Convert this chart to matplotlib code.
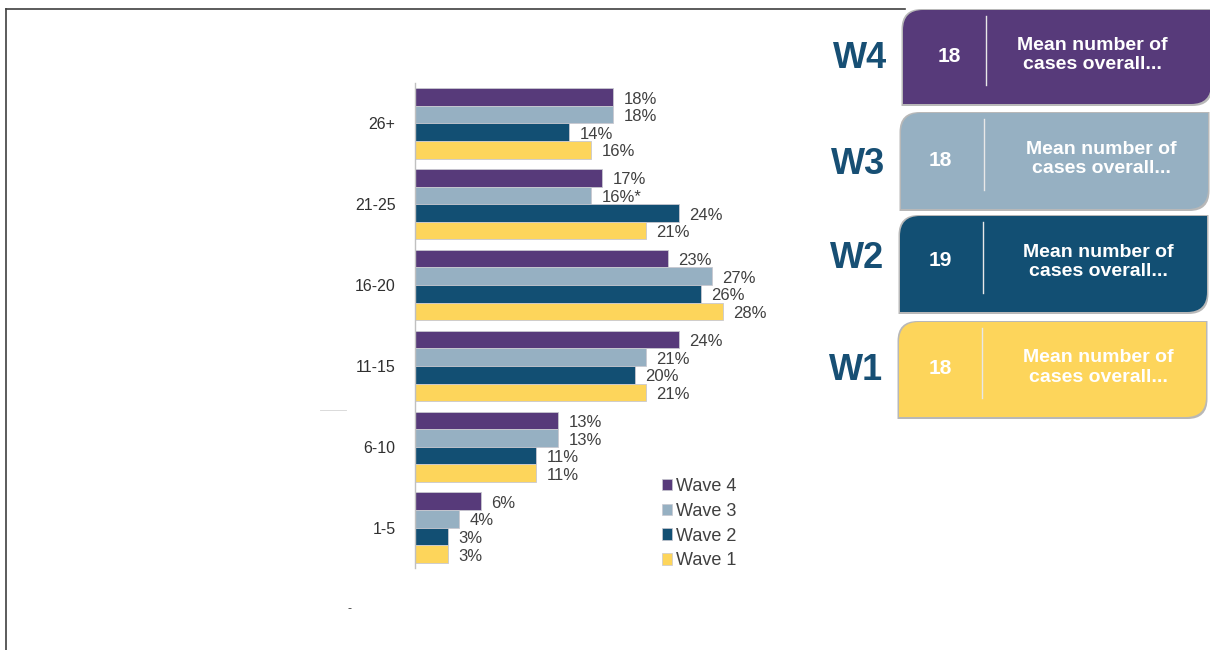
import matplotlib
matplotlib.use("Agg")
import matplotlib.pyplot as plt
from matplotlib.path import Path
from matplotlib.patches import PathPatch, Patch
import numpy as np

plt.rcParams['font.family'] = ['Liberation Sans', 'DejaVu Sans']

categories = ["26+", "21-25", "16-20", "11-15", "6-10", "1-5"]
series_names = ["Wave 4", "Wave 3", "Wave 2", "Wave 1"]
wave4 = [18, 17, 23, 24, 13, 6]
wave3 = [18, 16, 27, 21, 13, 4]
wave2 = [14, 24, 26, 20, 11, 3]
wave1 = [16, 21, 28, 21, 11, 3]
wave3_labels = ["18%", "16%*", "27%", "21%", "13%", "4%"]
colors = ["#573a7a", "#96b0c2", "#124f73", "#fdd55b"]

box_labels = ["W4", "W3", "W2", "W1"]
box_means = ["18", "18", "19", "18"]
box_text = "Mean number of\ncases overall..."

W, H = 1210, 650
fig = plt.figure(figsize=(W / 100, H / 100), dpi=100)

# main bar axes
ax = fig.add_axes([415 / W, 1 - 568 / H, 385 / W, 485 / H])
n = len(categories)
ypos = np.arange(n)[::-1]  # 26+ on top
h = 0.218
series = [wave4, wave3, wave2, wave1]
offsets = [1.5, 0.5, -0.5, -1.5]
for i, (vals, col, off) in enumerate(zip(series, colors, offsets)):
    bars = ax.barh(ypos + off * h, vals, height=h, color=col,
                   edgecolor="#c8c8d0", linewidth=0.6, label=series_names[i])
    labels = wave3_labels if i == 1 else [f"{v}%" for v in vals]
    for b, lab in zip(bars, labels):
        ax.annotate(lab, (b.get_width(), b.get_y() + b.get_height() / 2),
                    xytext=(7.5, -1.5), textcoords="offset points",
                    va="center", ha="left", fontsize=12, color="#404040")

ax.set_xlim(0, 35)
ax.set_ylim(-0.5, n - 0.5)
ax.set_yticks(ypos)
ax.set_yticklabels(categories, fontsize=11.5, color="#303030")
ax.tick_params(axis="y", length=0, pad=14)
ax.set_xticks([])
for s in ["top", "right", "bottom"]:
    ax.spines[s].set_visible(False)
ax.spines["left"].set_color("#c0c0c0")
ax.spines["left"].set_linewidth(1.0)

handles = [Patch(facecolor=c, edgecolor="#c8c8d0", linewidth=0.5) for c in colors]
fig.legend(handles, series_names, loc="upper left",
           bbox_to_anchor=(653 / W, 1 - 469 / H), frameon=False,
           fontsize=13, handlelength=0.55, handleheight=0.6,
           handletextpad=0.2, labelspacing=0.43, borderpad=0,
           labelcolor="#404040")

# overlay axes in pixel coordinates for decorations
ov = fig.add_axes([0, 0, 1, 1], zorder=-1)
ov.set_xlim(0, W)
ov.set_ylim(H, 0)
ov.axis("off")

# border lines
ov.plot([6, 6], [650, 9], color="#404040", lw=1.2)
ov.plot([6, 905], [9, 9], color="#404040", lw=1.2)

ov2 = fig.add_axes([0, 0, 1, 1], zorder=5)
ov2.set_xlim(0, W)
ov2.set_ylim(H, 0)
ov2.axis("off")


def box_path(x0, y0, x1, y1, r):
    verts = [
        (x0, y0 + r),
        (x0, y0), (x0 + r, y0),
        (x1, y0),
        (x1, y1 - r),
        (x1, y1), (x1 - r, y1),
        (x0, y1),
        (x0, y0 + r),
    ]
    codes = [Path.MOVETO, Path.CURVE3, Path.CURVE3, Path.LINETO, Path.LINETO,
             Path.CURVE3, Path.CURVE3, Path.LINETO, Path.CLOSEPOLY]
    return Path(verts, codes)


boxes = [(903, 10, 1211, 104), (901, 113, 1208, 209),
         (900, 216, 1207, 312), (899, 322, 1206, 417)]
lbl_y = [59, 165, 258, 370]
num_x = [949, 940, 940, 940]
num_y = [57, 160, 261, 368]
txt_x = [1092, 1101, 1098, 1098]
for (x0, y0, x1, y1), col, lab, mean, ly, nx, ny, tx in zip(
        boxes, colors, box_labels, box_means, lbl_y, num_x, num_y, txt_x):
    shadow = PathPatch(box_path(x0 - 1.5, y0 - 1, x1 + 1.5, y1 + 2, 20),
                       facecolor="#b8b8b8", edgecolor="none")
    ov2.add_patch(shadow)
    ov2.add_patch(PathPatch(box_path(x0, y0, x1, y1, 20), facecolor=col,
                            edgecolor="none"))
    ov2.text(x0 - 16, ly, lab, ha="right", va="center", fontsize=26,
             fontweight="bold", color="#174f74")
    ov2.text(nx, ny, mean, ha="center", va="center", fontsize=15,
             fontweight="bold", color="white")
    ov2.plot([x0 + 83, x0 + 83], [y0 + 6, y1 - 19], color="#e8e8e8", lw=1.0)
    ov2.text(tx, (y0 + y1) / 2 - 2, box_text, ha="center", va="center",
             fontsize=14, fontweight="bold", color="white",
             linespacing=1.2)

# small stray marks
ov2.text(350, 609, "-", ha="center", va="center", fontsize=9, color="#404040")
ov2.plot([320, 346], [410, 410], color="#d4d4d4", lw=0.6)

fig.savefig("out.png", dpi=100)
